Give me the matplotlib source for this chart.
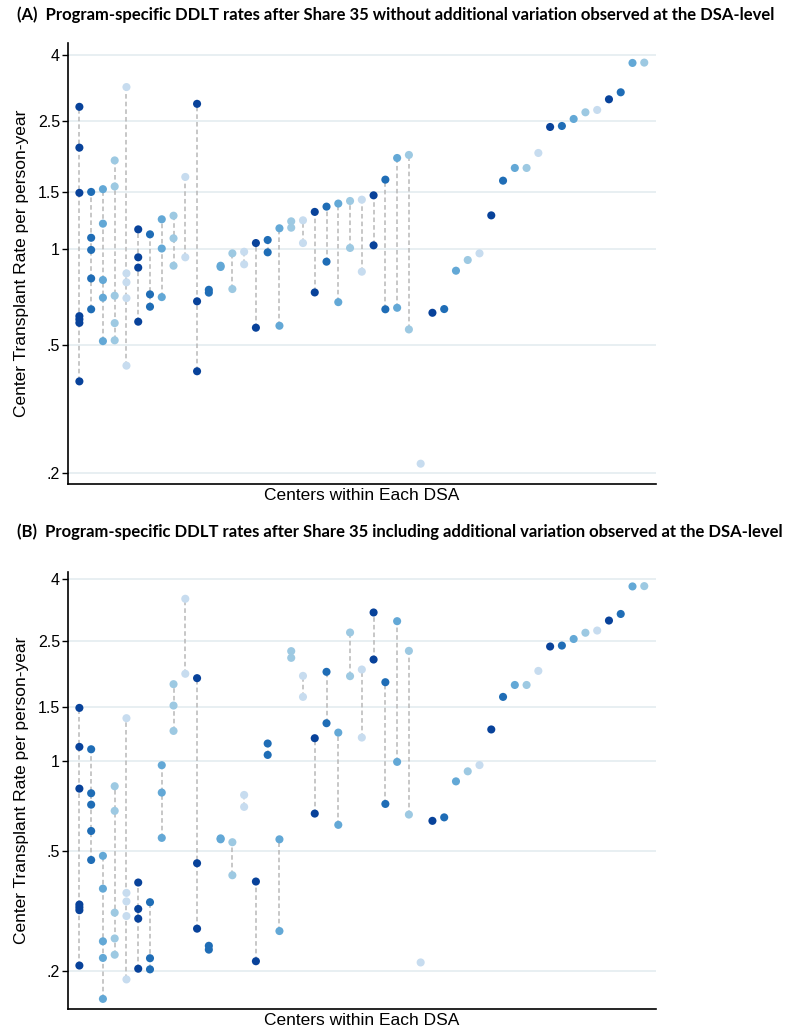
import numpy as np
import matplotlib
matplotlib.use("Agg")
import matplotlib.pyplot as plt

# Transplant rates per center, one inner list per center (DSA groups side by side)
# cols 30..48 are single-center DSAs, same in both panels
tail_rates = [[0.631], [0.648], [0.853], [0.921], [0.966], [1.268], [1.626],
              [1.781], [1.781], [1.983], [2.389], [2.406], [2.53], [2.654],
              [2.699], [2.913], [3.063], [3.78], [3.789]]

rates_a = [
    [2.76, 2.06, 1.49, 0.616, 0.602, 0.587, 0.386],
    [1.50, 1.08, 0.99, 0.807, 0.647],
    [1.53, 1.195, 0.798, 0.703, 0.515],
    [1.88, 1.56, 0.713, 0.586, 0.518],
    [3.18, 0.837, 0.785, 0.701, 0.432],
    [1.147, 0.939, 0.872, 0.592],
    [1.107, 0.720, 0.659],
    [1.233, 1.00, 0.706],
    [1.265, 1.076, 0.884],
    [1.67, 0.939],
    [2.82, 0.685, 0.415],
    [0.744, 0.729],
    [0.884, 0.876],
    [0.966, 0.748],
    [0.977, 0.893],
    [1.04, 0.567],
    [1.063, 0.973],
    [1.156, 0.575],
    [1.215, 1.161],
    [1.224, 1.04],
    [1.30, 0.73],
    [1.35, 0.91],
    [1.38, 0.681],
    [1.406, 1.004],
    [1.419, 0.847],
    [1.464, 1.023],
    [1.638, 0.647],
    [1.913, 0.654],
    [1.955, 0.56],
    [0.214],
] + tail_rates

rates_b = [
    [1.495, 1.11, 0.807, 0.333, 0.326, 0.319, 0.209],
    [1.09, 0.779, 0.714, 0.584, 0.468],
    [0.483, 0.376, 0.2515, 0.2215, 0.162],
    [0.822, 0.681, 0.313, 0.257, 0.227],
    [1.382, 0.364, 0.341, 0.305, 0.188],
    [0.394, 0.322, 0.299, 0.204],
    [0.339, 0.221, 0.203],
    [0.965, 0.783, 0.554],
    [1.792, 1.522, 1.254],
    [3.44, 1.94],
    [1.876, 0.4565, 0.277],
    [0.243, 0.236],
    [0.552, 0.548],
    [0.536, 0.4165],
    [0.769, 0.702],
    [0.397, 0.216],
    [1.139, 1.044],
    [0.548, 0.272],
    [2.306, 2.191],
    [1.909, 1.626],
    [1.186, 0.667],
    [1.969, 1.33],
    [1.238, 0.612],
    [2.659, 1.905],
    [2.004, 1.192],
    [3.098, 2.163],
    [1.819, 0.718],
    [2.899, 0.99],
    [2.311, 0.662],
    [0.214],
] + tail_rates

yticks = [0.2, 0.5, 1, 1.5, 2.5, 4]
ytick_labels = [".2", ".5", "1", "1.5", "2.5", "4"]

# colours cycle through five blues, darkest first
blues = ["#08429a", "#1f6db6", "#63a8d6", "#9dc9e2", "#c7dcef"]

title_a = "(A)  Program-specific DDLT rates after Share 35 without additional variation observed at the DSA-level"
title_b = "(B)  Program-specific DDLT rates after Share 35 including additional variation observed at the DSA-level"


def draw_panel(ax, rates, ylim):
    for i, col in enumerate(rates):
        c = blues[i % 5]
        if len(col) > 1:
            ax.plot([i, i], [min(col), max(col)], linestyle=(0, (3, 2)),
                    color="#b8b8b8", lw=1.1, zorder=1)
        ax.scatter([i] * len(col), col, s=34, color=c, edgecolors="none", zorder=3)

    ax.set_yscale("log")
    ax.set_ylim(*ylim)
    ax.set_xlim(-0.94, 48.97)
    ax.set_yticks(yticks)
    ax.set_yticklabels(ytick_labels)
    ax.minorticks_off()
    ax.set_xticks([])
    ax.grid(axis="y", color="#e6eef1", lw=1.3, zorder=0)
    ax.set_axisbelow(True)
    for s in ["top", "right"]:
        ax.spines[s].set_visible(False)
    for s in ["left", "bottom"]:
        ax.spines[s].set_linewidth(1.2)
    ax.tick_params(axis="y", length=4, width=1, labelsize=11.5, pad=2)
    ax.set_ylabel("Center Transplant Rate per person-year", fontsize=12.5, labelpad=6)
    ax.set_xlabel("Centers within Each DSA", fontsize=12.5, labelpad=3)


plt.rcParams["font.family"] = ["Liberation Sans", "DejaVu Sans"]
fig = plt.figure(figsize=(8, 10.34), dpi=100)

ax1 = fig.add_axes([0.0854, 0.5319, 0.7342, 0.4265])
draw_panel(ax1, rates_a, (0.185, 4.36))
ax2 = fig.add_axes([0.0854, 0.0242, 0.7342, 0.4226])
draw_panel(ax2, rates_b, (0.15, 4.22))

fig.text(17 / 800, 1 - 15 / 1034, title_a, fontsize=12.0, fontweight="bold",
         family="Lato", ha="left", va="center")
fig.text(17 / 800, 1 - 532 / 1034, title_b, fontsize=12.0, fontweight="bold",
         family="Lato", ha="left", va="center")

fig.savefig("out.png", dpi=100)
